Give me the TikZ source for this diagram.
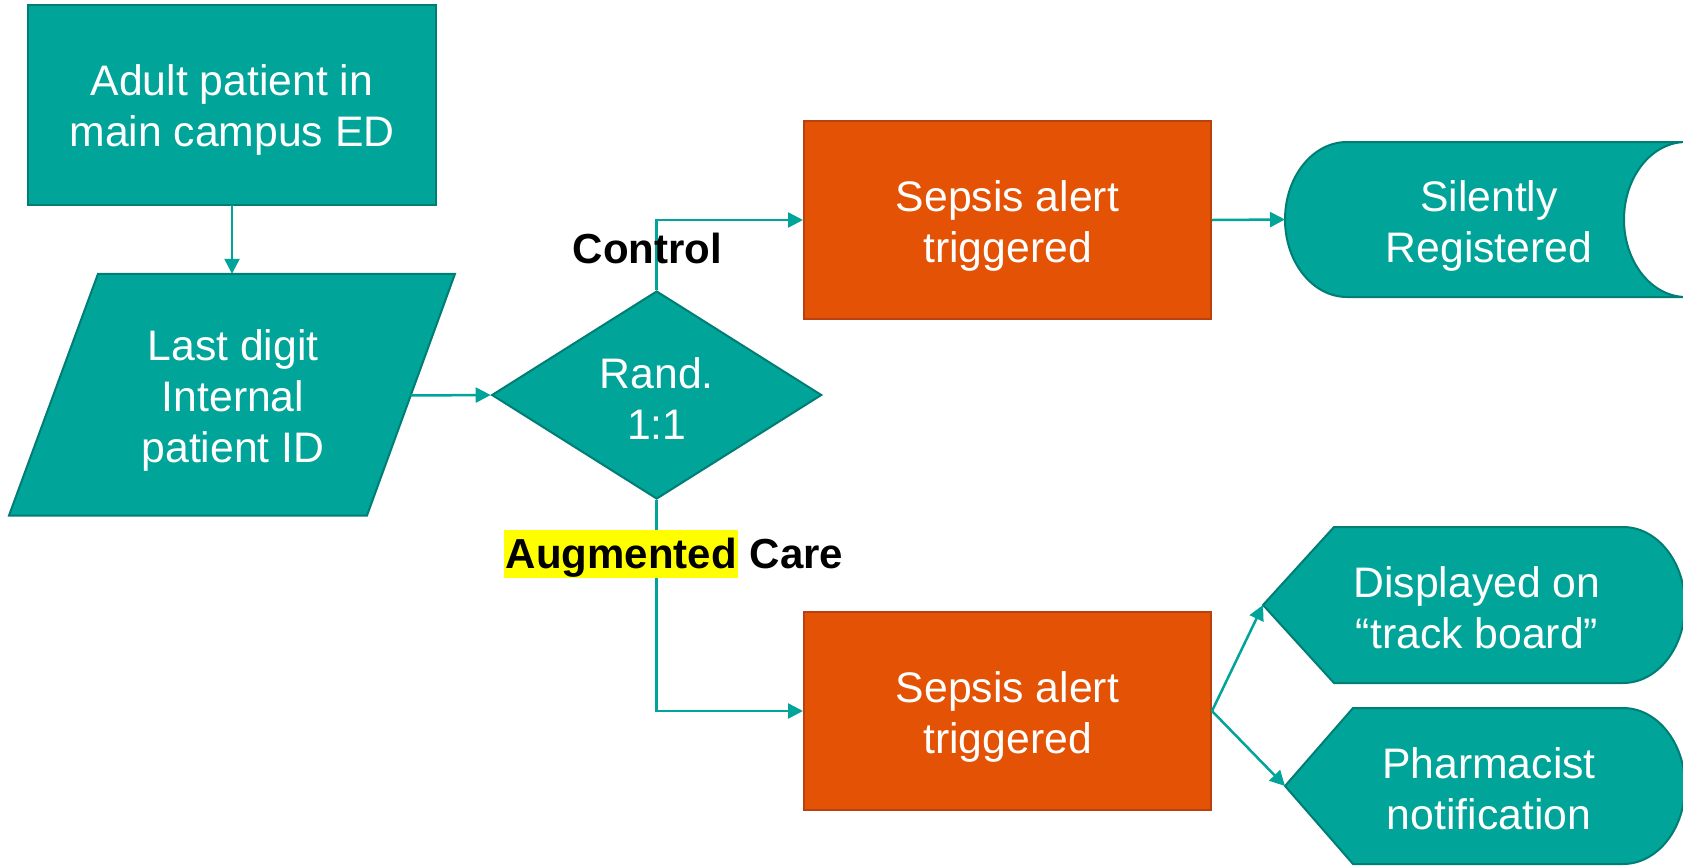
\documentclass[tikz,border=0pt]{standalone}
\usepackage{fontspec}
\setmainfont{Liberation Sans}
\usetikzlibrary{arrows.meta,shapes.geometric}

\definecolor{tealfill}{RGB}{0,164,153}
\definecolor{tealedge}{RGB}{0,125,116}
\definecolor{tealline}{RGB}{0,164,153}
\definecolor{alertfill}{RGB}{227,82,5}
\definecolor{alertedge}{RGB}{185,65,15}
\definecolor{hilite}{RGB}{255,255,0}

\begin{document}
\begin{tikzpicture}[x=1pt,y=-1pt,
  tealshape/.style={fill=tealfill,draw=tealedge,line width=2pt},
  alertbox/.style={rectangle,fill=alertfill,draw=alertedge,line width=2pt,
    minimum width=407pt,minimum height=198pt,inner sep=0pt},
  frame/.style={rectangle,inner sep=0pt,outer sep=0pt},
  txt/.style={text=white,align=center,font=\fontsize{42.7}{51}\selectfont,inner sep=0pt},
  lbl/.style={text=black,font=\fontsize{42}{48}\selectfont\bfseries,inner sep=0pt},
  conn/.style={draw=tealline,line width=2.5pt,-{Triangle[length=15pt,width=15pt]}}]

\useasboundingbox (0,0) rectangle (1683,865);

% entry box
\node[frame,tealshape,minimum width=408pt,minimum height=199.4pt] (start) at (232,104.8) {};

% input parallelogram (frame node gives its bounding box)
\node[frame,minimum width=446pt,minimum height=241.7pt] (id) at (232,394.65) {};
\draw[tealshape] (98,273.8) -- (455,273.8) -- coordinate[pos=0.5035] (id-out) (367,515.5) -- (9,515.5) -- cycle;

% randomisation decision
\node[diamond,tealshape,minimum width=330pt,minimum height=208pt,inner sep=0pt] (rand) at (656.7,395) {};

% alert boxes
\node[alertbox] (alert1) at (1007.5,220) {};
\node[alertbox] (alert2) at (1007.5,711) {};

% stored-data shape
\node[frame,minimum width=401pt,minimum height=155pt] (silent) at (1485.5,219.5) {};
\draw[tealshape] (1347,142) -- (1686,142)
  arc[start angle=270,end angle=90,x radius=62,y radius=77.5]
  -- (1347,297)
  arc[start angle=90,end angle=270,x radius=62,y radius=77.5] -- cycle;

% display shapes
\node[frame,minimum width=422pt,minimum height=156pt] (disp) at (1474,605) {};
\draw[tealshape] (1263,605) -- (1334,527) -- (1623,527)
  arc[start angle=-90,end angle=90,x radius=62,y radius=78]
  -- (1334,683) -- cycle;

\node[frame,minimum width=400pt,minimum height=156pt] (pharm) at (1485,786) {};
\draw[tealshape] (1285,786) -- (1353,708) -- (1623,708)
  arc[start angle=-90,end angle=90,x radius=62,y radius=78]
  -- (1353,864) -- cycle;

% texts
\node[txt] (start-t)  at (232,110)     {Adult patient in\\main campus ED};
\node[txt] (id-t)     at (233,400.5)   {Last digit\\Internal\\patient ID};
\node[txt] (rand-t)   at (656.7,398.6) {Rand.\\1:1};
\node[txt] (alert1-t) at (1007.5,226.4){Sepsis alert\\triggered};
\node[txt] (alert2-t) at (1007.5,716.8){Sepsis alert\\triggered};
\node[txt] (silent-t) at (1489,226)    {Silently\\Registered};
\node[txt] (disp-t)   at (1477,607.5)  {Displayed on\\“track board”};
\node[txt] (pharm-t)  at (1489,789)    {Pharmacist\\notification};

% connectors
\draw[conn] (start.south) -- (id.north);
\draw[conn] (id-out) -- (rand.west);
\draw[conn] (rand.north) |- (alert1.west);
\draw[conn] (rand.south) |- (alert2.west);
\draw[conn] (alert1.east) -- (silent.west);
\draw[conn] (alert2.east) -- (disp.west);
\draw[conn] (alert2.east) -- (pharm.west);

% arm labels
\node[lbl,anchor=base] (ctrl) at (647.5,263) {Control};
\node[lbl,anchor=base west] (aug) at (504,568)
  {\setlength{\fboxsep}{0pt}\colorbox{hilite}{\rule[-10pt]{0pt}{48pt}\hspace{1.5pt}Augmented\hspace{1.5pt}} Care};
\end{tikzpicture}
\end{document}
